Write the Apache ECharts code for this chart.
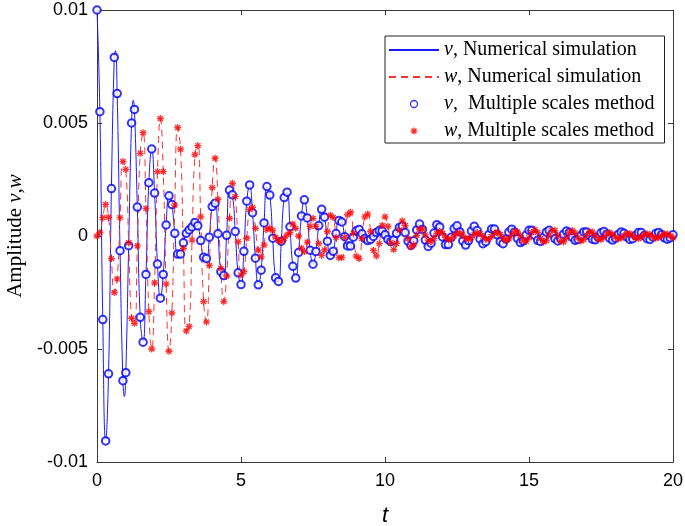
<!DOCTYPE html>
<html><head><meta charset="utf-8">
<script src="https://cdn.jsdelivr.net/npm/echarts@6/dist/echarts.min.js"></script>
<style>html,body{margin:0;padding:0;background:#fff}#c{width:685px;height:526px}</style>
</head><body><div id="c"></div>
<script>
// sample spacing of the markers in t
const DT = 0.1;
// amplitudes in units of 1e-3, at t = 0, 0.1, ..., 20
const SCALE = 1e-3;
const V = [
10.0, 5.5, -3.7, -9.07, -6.1, 2.1, 7.9, 6.3, -0.65, -6.4,
-6.05, -0.43, 5.0, 5.6, 1.28, -3.6, -4.7, -1.7, 2.36, 3.85,
1.9, -1.24, -2.75, -1.7, 0.49, 1.78, 1.39, 0.12, -0.8, -0.8,
-0.3, 0.12, 0.27, 0.4, 0.6, 0.45, -0.2, -0.94, -1.0, -0.05,
1.3, 1.45, 0.1, -1.58, -1.75, 0.03, 2.03, 1.82, 0.2, -1.63,
-2.15, -0.68, 1.54, 2.26, 1.03, -0.98, -2.16, -1.51, 0.58, 2.19,
1.81, -0.1, -1.85, -2.01, -0.23, 1.7, 1.94, 0.41, -1.34, -1.86,
-0.73, 0.89, 1.6, 0.8, -0.63, -1.25, -0.69, 0.46, 1.18, 0.83,
-0.23, -0.86, -0.68, 0.11, 0.69, 0.62, -0.03, -0.44, -0.44, -0.05,
0.23, 0.29, 0.1, -0.11, -0.2, -0.15, -0.02, 0.15, 0.24, 0.22,
0.05, -0.15, -0.25, -0.18, 0.12, 0.38, 0.44, 0.15, -0.23, -0.42,
-0.21, 0.27, 0.53, 0.29, -0.18, -0.46, -0.32, 0.13, 0.5, 0.4,
-0.04, -0.38, -0.38, -0.06, 0.33, 0.45, 0.18, -0.22, -0.4, -0.2,
0.22, 0.43, 0.24, -0.13, -0.34, -0.25, 0.05, 0.31, 0.31, 0.05,
-0.25, -0.34, -0.13, 0.17, 0.3, 0.17, -0.11, -0.29, -0.22, 0.04,
0.25, 0.25, 0.03, -0.19, -0.24, -0.06, 0.17, 0.25, 0.1, -0.12,
-0.22, -0.12, 0.08, 0.22, 0.15, -0.05, -0.19, -0.15, 0.02, 0.18,
0.18, 0.02, -0.14, -0.17, -0.05, 0.14, 0.2, 0.08, -0.1, -0.18,
-0.1, 0.07, 0.18, 0.12, -0.04, -0.15, -0.12, 0.02, 0.15, 0.15,
0.02, -0.12, -0.15, -0.04, 0.11, 0.16, 0.06, -0.08, -0.14, -0.08,
0.05
];
const W = [
0, 0.16, 0.81, 1.4, 0.83, -1.0, -2.5, -1.9, 0.81, 3.3,
2.95, -0.3, -3.64, -3.86, -0.44, 3.66, 4.57, 1.22, -3.35, -5.0,
-2.07, 2.85, 5.2, 2.85, -2.12, -5.1, -3.4, 1.37, 4.8, 3.84,
-0.55, -4.2, -4.0, -0.18, 3.6, 4.0, 0.85, -2.9, -3.8, -1.3,
2.14, 3.44, 1.62, -1.43, -2.9, -1.77, 0.78, 2.33, 1.74, -0.25,
-1.73, -1.58, -0.1, 1.18, 1.27, 0.34, -0.62, -0.92, -0.4, 0.3,
0.35, 0.25, -0.05, -0.2, -0.25, -0.1, 0.05, 0.15, 0.53, 0.34,
0.0, -0.54, -0.69, -0.27, 0.43, 0.78, 0.43, -0.34, -0.86, -0.62,
0.2, 0.92, 0.82, -0.06, -0.96, -0.96, -0.06, 0.94, 1.05, 0.12,
-0.89, -1.0, -0.11, 0.85, 0.97, 0.2, -0.64, -0.88, -0.34, 0.47,
0.85, 0.43, -0.3, -0.6, -0.33, 0.26, 0.67, 0.47, -0.12, -0.48,
-0.39, 0.03, 0.31, 0.31, 0.05, -0.18, -0.25, -0.1, 0.11, 0.2,
0.12, -0.06, -0.16, -0.13, 0.01, 0.13, 0.14, 0.04, -0.1, -0.15,
-0.075, 0.06, 0.15, 0.11, -0.02, -0.14, -0.14, -0.02, 0.12, 0.17,
0.07, -0.1, -0.2, -0.13, 0.05, 0.2, 0.18, 0.01, -0.2, -0.24,
-0.08, 0.16, 0.28, 0.16, -0.11, -0.27, -0.2, 0.04, 0.25, 0.25,
0.03, -0.21, -0.26, -0.09, 0.15, 0.25, 0.14, -0.08, -0.22, -0.16,
0.03, 0.18, 0.18, 0.02, -0.13, -0.16, -0.06, 0.09, 0.15, 0.08,
-0.05, -0.13, -0.09, 0.02, 0.11, 0.11, 0.01, -0.08, -0.11, -0.04,
0.06, 0.1, 0.06, -0.04, -0.1, -0.07, 0.01, 0.09, 0.09, 0.01,
-0.08
];
// extra extremes of the v simulation curve between markers (t, value×1e-3)
const vLineExtraT = [0.64, 0.95, 1.26];
const vLineExtraV = [8.2, -7.1, 6.0];

const xTicks = [0, 5, 10, 15, 20];
const yTickLabels = ['-0.01', '-0.005', '0', '0.005', '0.01'];
const yTickValues = [-0.01, -0.005, 0, 0.005, 0.01];

const names = ['v, Numerical simulation', 'w, Numerical simulation', 'v,  Multiple scales method', 'w, Multiple scales method'];

const vPts = V.map((v, i) => [+(i * DT).toFixed(2), v * SCALE]);
const wPts = W.map((w, i) => [+(i * DT).toFixed(2), w * SCALE]);
const vLine = vPts.concat(vLineExtraT.map((t, k) => [t, vLineExtraV[k] * SCALE])).sort((a, b) => a[0] - b[0]);

const STAR = 'path://M0,-1L0,1M-0.95,0L0.95,0M-0.7,-0.7L0.7,0.7M-0.7,0.7L0.7,-0.7';
const AXC = '#3a3a3a';
const sans = 'Liberation Sans, Arial, sans-serif';
const serif = 'Liberation Serif, Times New Roman, serif';

const chart = echarts.init(document.getElementById('c'), null, {renderer: 'canvas'});
const baseX = {
  type: 'value', min: xTicks[0], max: xTicks[xTicks.length - 1], interval: 5,
  axisLine: {show: true, onZero: false, lineStyle: {color: AXC, width: 1}},
  axisTick: {show: true, inside: true, length: 5, lineStyle: {color: AXC}},
  splitLine: {show: false}
};
const baseY = {
  type: 'value', min: -0.01, max: 0.01, interval: 0.005,
  axisLine: {show: true, onZero: false, lineStyle: {color: AXC, width: 1}},
  axisTick: {show: true, inside: true, length: 5, lineStyle: {color: AXC}},
  splitLine: {show: false}
};
chart.setOption({
  animation: false,
  backgroundColor: '#fff',
  grid: {left: 97, right: 12, top: 10, bottom: 64, containLabel: false, outerBoundsMode: 'none'},
  xAxis: [
    Object.assign({}, baseX, {
      position: 'bottom',
      axisLabel: {show: true, margin: 10, color: '#000', fontFamily: sans, fontSize: 18},
      name: 't', nameLocation: 'middle', nameGap: 43,
      nameTextStyle: {fontFamily: sans, fontStyle: 'italic', fontSize: 22, color: '#000'}
    }),
    Object.assign({}, baseX, {position: 'top', axisLabel: {show: false}})
  ],
  yAxis: [
    Object.assign({}, baseY, {
      position: 'left',
      axisLabel: {show: true, margin: 9, color: '#000', fontFamily: sans, fontSize: 18,
        formatter: v => {
          const k = yTickValues.findIndex(x => Math.abs(x - v) < 1e-9);
          return k >= 0 ? yTickLabels[k] : '';
        }},
      name: '{a|Amplitude }{i|v}{a|,}{i|w}', nameLocation: 'middle', nameGap: 60,
      nameTextStyle: {color: '#000', fontFamily: serif, fontSize: 21,
        rich: {a: {fontFamily: serif, fontSize: 21, color: '#000'},
               i: {fontFamily: serif, fontSize: 21, fontStyle: 'italic', color: '#000'}}}
    }),
    Object.assign({}, baseY, {position: 'right', axisLabel: {show: false}})
  ],
  legend: {
    orient: 'vertical', left: 385, top: 36,
    padding: [4, 10, 2, 3],
    itemWidth: 50, itemHeight: 7, itemGap: 7,
    backgroundColor: '#fff', borderColor: '#222', borderWidth: 1, borderRadius: 0,
    textStyle: {fontFamily: serif, fontSize: 20, color: '#000', lineHeight: 20,
      rich: {i: {fontFamily: serif, fontSize: 20, fontStyle: 'italic', color: '#000', lineHeight: 20},
             n: {fontFamily: serif, fontSize: 20, color: '#000', lineHeight: 20}}},
    formatter: name => '{i|' + name.charAt(0) + '}{n|' + name.slice(1) + '}',
    data: [
      {name: names[0], itemStyle: {opacity: 0}},
      {name: names[1], itemStyle: {opacity: 0}},
      {name: names[2], icon: 'circle', itemStyle: {color: '#fff', borderColor: '#0000ff', borderWidth: 1.3}},
      {name: names[3], icon: STAR, itemStyle: {color: '#ff0000', borderColor: '#ff0000', borderWidth: 1.3}}
    ]
  },
  series: [
    {name: names[0], type: 'line', data: vLine, smooth: 0.5, symbol: 'none', showSymbol: false, clip: false,
     lineStyle: {color: '#1a1aff', width: 1}, itemStyle: {color: '#1a1aff'}, z: 2},
    {name: names[1], type: 'line', data: wPts, smooth: 0.5, symbol: 'none', showSymbol: false, clip: false,
     lineStyle: {color: '#ff3030', width: 1, type: [7, 5]}, itemStyle: {color: '#ff3030'}, z: 3},
    {name: names[2], type: 'scatter', data: vPts, symbol: 'emptyCircle', symbolSize: 7.5, clip: false,
     itemStyle: {color: '#0000ff', borderColor: '#0000ff', borderWidth: 1.2}, z: 4},
    {name: names[3], type: 'scatter', data: wPts, symbol: STAR, symbolSize: 7, clip: false,
     itemStyle: {color: '#ff0000', borderColor: '#ff0000', borderWidth: 1.3}, z: 5}
  ]
});
</script></body></html>
